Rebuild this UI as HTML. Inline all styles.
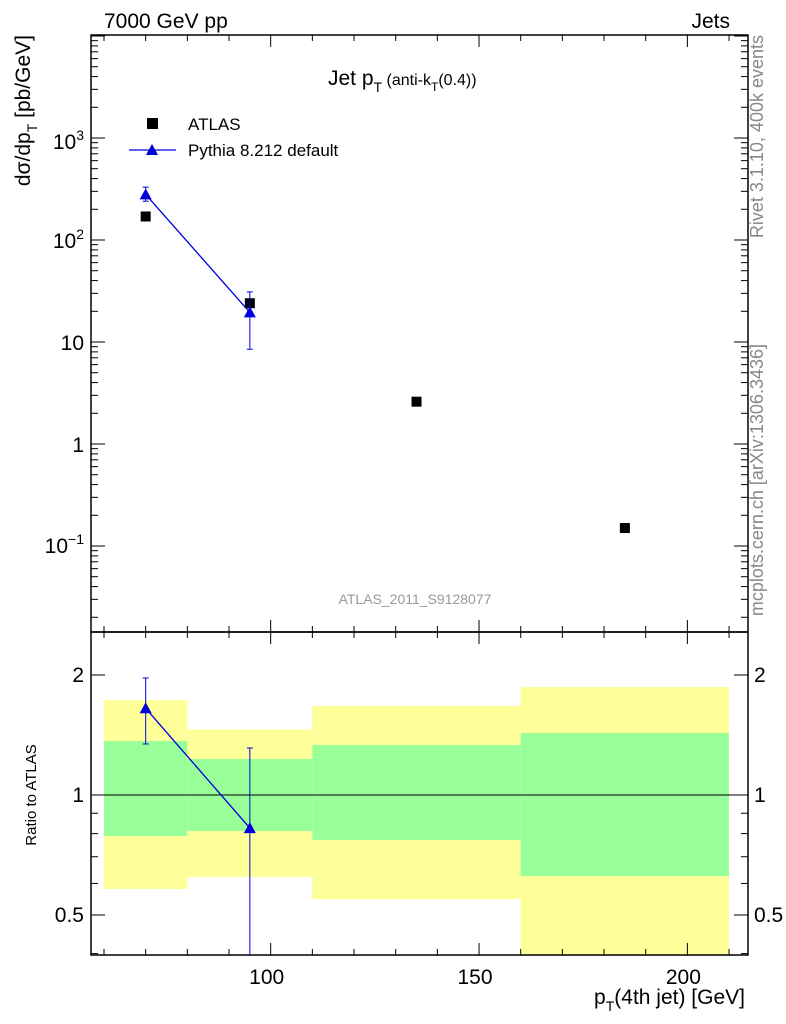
<!DOCTYPE html>
<html><head><meta charset="utf-8"><style>
body{margin:0;background:#fff;}
svg{display:block;font-family:"Liberation Sans",sans-serif;}
</style></head><body>
<svg id="c" width="786" height="1024" viewBox="0 0 786 1024"></svg>
<script>
const binEdges=[60,80,110,160,210];
const atlasX=[70,95,135,185];
const atlasY=[170,24,2.6,0.15];
const pyX=[70,95];
const pyY=[280,19.5];
const pyLo=[240,8.5];
const pyHi=[330,31];
const greenLo=[0.789,0.812,0.771,0.626];
const greenHi=[1.366,1.231,1.335,1.431];
const yellowLo=[0.581,0.623,0.548,0.3];
const yellowHi=[1.73,1.46,1.672,1.866];
const rX=[70,95];
const rY=[1.65,0.826];
const rLo=[1.343,0.3];
const rHi=[1.966,1.312];
const xTicks=[100,150,200];

const L=91,R=748,T=35,M=632,B=955;
const NS='http://www.w3.org/2000/svg';
const svg=document.getElementById('c');
function sx(v){return 104+(v-60)*4.167;}
function sy(v){return 444-Math.log10(v)*102;}
function ry(v){return 795-Math.log10(v)*398.6;}
function el(tag,a,name,parent){const e=document.createElementNS(NS,tag);for(const k in a)e.setAttribute(k,a[k]);


(parent||svg).appendChild(e);return e;}
function txt(x,y,s,size,name,anchor,fill,extra){const t=el('text',Object.assign({x:x,y:y,'font-size':size,'text-anchor':anchor||'start',fill:fill||'#000'},extra||{}),name);t.innerHTML=s;return t;}
function clampR(v){return Math.max(M,Math.min(B,v));}

for(let i=0;i<4;i++){
 const x0=sx(binEdges[i]),x1=sx(binEdges[i+1]);
 let a=clampR(ry(yellowHi[i])),b=clampR(ry(yellowLo[i]));
 el('rect',{x:x0,y:a,width:x1-x0,height:b-a,fill:'#ffff99'},'yellow-band-'+i);
 a=clampR(ry(greenHi[i]));b=clampR(ry(greenLo[i]));
 el('rect',{x:x0,y:a,width:x1-x0,height:b-a,fill:'#99ff99'},'green-band-'+i);
}
el('line',{x1:L,x2:R,y1:ry(1),y2:ry(1),stroke:'#000','stroke-width':1},'ratio-unity-line');

el('rect',{x:L,y:T,width:R-L,height:M-T,fill:'none',stroke:'#000','stroke-width':1.5},'main-frame');
el('rect',{x:L,y:M,width:R-L,height:B-M,fill:'none',stroke:'#000','stroke-width':1.5},'ratio-frame');

for(let v=60;v<=210;v+=10){
 const x=sx(v),big=v%50==0,len=big?12:6;
 [[M,M-len],[T,T+len],[B,B-len],[M,M+len]].forEach((p,j)=>el('line',{x1:x,x2:x,y1:p[0],y2:p[1],stroke:'#000'},'x-tick'));
}
xTicks.forEach(v=>txt(sx(v)-4,984,v,21,'x-tick-label','middle'));

for(let d=-2;d<=4;d++){for(let m=1;m<10;m++){const v=m*Math.pow(10,d);const y=sy(v);if(y<T||y>M)continue;const len=m==1?14:7;
 el('line',{x1:L,x2:L+len,y1:y,y2:y,stroke:'#000'},'y-tick');el('line',{x1:R,x2:R-len,y1:y,y2:y,stroke:'#000'},'y-tick');}}
txt(84,553,'10<tspan font-size="14" dy="-9">−1</tspan>',21,'y-tick-label','end');
txt(84,452,'1',21,'y-tick-label','end');
txt(84,350,'10',21,'y-tick-label','end');
txt(84,248,'10<tspan font-size="14" dy="-9">2</tspan>',21,'y-tick-label','end');
txt(84,149,'10<tspan font-size="14" dy="-9">3</tspan>',21,'y-tick-label','end');

[0.4,0.5,0.6,0.7,0.8,0.9,1,2].forEach(v=>{const y=ry(v);const len=(v==0.5||v==1||v==2)?14:7;
 el('line',{x1:L,x2:L+len,y1:y,y2:y,stroke:'#000'},'ratio-tick');el('line',{x1:R,x2:R-len,y1:y,y2:y,stroke:'#000'},'ratio-tick');});
[[0.5,'0.5'],[1,'1'],[2,'2']].forEach(p=>{txt(84,ry(p[0])+7,p[1],21,'ratio-tick-label','end');txt(754,ry(p[0])+7,p[1],21,'ratio-tick-label-right','start');});

atlasX.forEach((x,i)=>el('rect',{x:sx(x)-5,y:sy(atlasY[i])-5,width:10,height:10,fill:'#000'},'atlas-point'));
el('polyline',{points:pyX.map((x,i)=>sx(x)+','+sy(pyY[i])).join(' '),fill:'none',stroke:'#0000dd','stroke-width':1.3},'pythia-line');
pyX.forEach((x,i)=>{const X=sx(x);
 el('line',{x1:X,x2:X,y1:sy(pyLo[i]),y2:sy(pyHi[i]),stroke:'#0000dd'},'pythia-errorbar');
 el('polygon',{points:`${X-6},${sy(pyY[i])+5} ${X+6},${sy(pyY[i])+5} ${X},${sy(pyY[i])-6}`,fill:'#0000dd'},'pythia-point');});
el('polyline',{points:rX.map((x,i)=>sx(x)+','+ry(rY[i])).join(' '),fill:'none',stroke:'#0000dd','stroke-width':1.3},'ratio-pythia-line');
rX.forEach((x,i)=>{const X=sx(x);
 el('line',{x1:X,x2:X,y1:clampR(ry(rLo[i])),y2:clampR(ry(rHi[i])),stroke:'#0000dd'},'ratio-errorbar');
 el('line',{x1:X-3,x2:X+3,y1:ry(rHi[i]),y2:ry(rHi[i]),stroke:'#0000dd'},'ratio-errorbar-cap');
 if(ry(rLo[i])<B)el('line',{x1:X-3,x2:X+3,y1:ry(rLo[i]),y2:ry(rLo[i]),stroke:'#0000dd'},'ratio-errorbar-cap');
 el('polygon',{points:`${X-6},${ry(rY[i])+5} ${X+6},${ry(rY[i])+5} ${X},${ry(rY[i])-6}`,fill:'#0000dd'},'ratio-pythia-point');});
pyX.forEach((x,i)=>{const X=sx(x);[pyLo[i],pyHi[i]].forEach(v=>el('line',{x1:X-3,x2:X+3,y1:sy(v),y2:sy(v),stroke:'#0000dd'},'pythia-errorbar-cap'));});

el('rect',{x:147,y:118,width:11,height:11,fill:'#000'},'legend-atlas-marker');
txt(188,130,'ATLAS',17,'legend-atlas-label');
el('line',{x1:129,x2:176,y1:150,y2:150,stroke:'#0000dd','stroke-width':1.3},'legend-pythia-line');
el('polygon',{points:'146,155 158,155 152,144',fill:'#0000dd'},'legend-pythia-marker');
txt(188,156,'Pythia 8.212 default',17,'legend-pythia-label');

txt(104,28,'7000 GeV pp',21,'header-left');
txt(730,28,'Jets',21,'header-right','end');
txt(328,85,'Jet p<tspan font-size="14" dy="7">T</tspan><tspan dy="-7" font-size="16"> (anti-k</tspan><tspan font-size="12" dy="6">T</tspan><tspan dy="-6" font-size="16">(0.4))</tspan>',21,'plot-title');
txt(415,604,'ATLAS_2011_S9128077',14,'analysis-label','middle','#999');
txt(745,1004,'p<tspan font-size="14" dy="7">T</tspan><tspan dy="-7">(4th jet) [GeV]</tspan>',21,'x-axis-title','end');
txt(0,0,'dσ/dp<tspan font-size="14" dy="7">T</tspan><tspan dy="-7"> [pb/GeV]</tspan>',21,'y-axis-title','end',null,{transform:'translate(30,35) rotate(-90)'});
txt(0,0,'Ratio to ATLAS',15,'ratio-axis-title','middle',null,{transform:'translate(36,795) rotate(-90)'});
txt(0,0,'Rivet 3.1.10,  400k events',18,'rivet-label','end','#888',{transform:'translate(763,35) rotate(-90)'});
txt(0,0,'mcplots.cern.ch [arXiv:1306.3436]',18,'mcplots-label','end','#888',{transform:'translate(763,344) rotate(-90)'});
</script>
</body></html>
